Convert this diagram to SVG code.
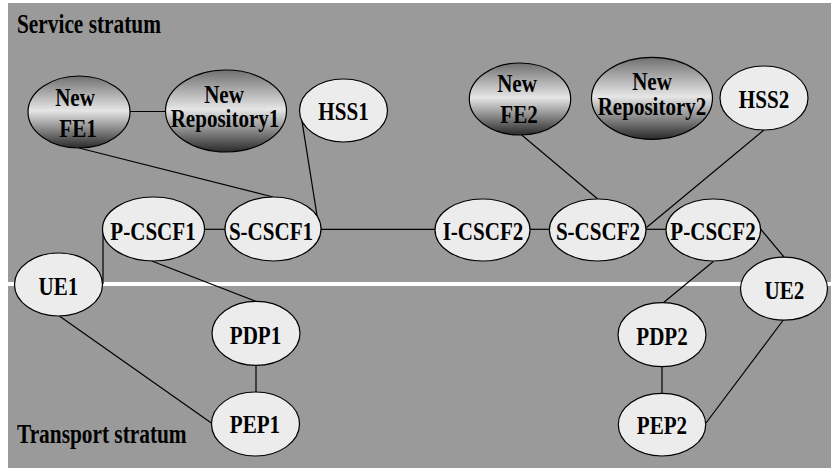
<svg xmlns="http://www.w3.org/2000/svg" width="831" height="470" viewBox="0 0 831 470">
<style>
.bg{fill:#9a9a9a}
.sep{stroke:#ffffff;stroke-width:4}
.n{fill:#ececec;stroke:#000;stroke-width:1.2}
.g{fill:url(#grad);stroke:#000;stroke-width:1.2}
.e line{stroke:#000;stroke-width:1.2}
text{font-family:"Liberation Serif","Times New Roman",serif;font-weight:bold;fill:#000}
.t{font-size:26px;text-anchor:middle}
.s{font-size:27px}
</style>
<defs>
<linearGradient id="grad" x1="0" y1="0" x2="0" y2="1">
<stop offset="0" stop-color="#707070"/>
<stop offset="0.48" stop-color="#e6e6e6"/>
<stop offset="1" stop-color="#2a2a2a"/>
</linearGradient>
</defs>
<rect width="831" height="470" fill="#ffffff"/>
<rect class="bg" x="8" y="3" width="823" height="465"/>
<line class="sep" x1="8" y1="284" x2="831" y2="284"/>
<text class="s" transform="translate(17,33) scale(.79,1)">Service stratum</text>
<text class="s" transform="translate(17,443) scale(.79,1)">Transport stratum</text>
<g id="connectors" class="e">
<line x1="130" y1="111.5" x2="165.5" y2="111.5"/>
<line x1="79" y1="148" x2="273" y2="197"/>
<line x1="301.9" y1="120.7" x2="319" y2="228"/>
<line x1="204" y1="229.3" x2="225" y2="229.3"/>
<line x1="320.7" y1="229.3" x2="435" y2="229.3"/>
<line x1="530" y1="229.3" x2="549.3" y2="229.3"/>
<line x1="646" y1="229.3" x2="666" y2="229.3"/>
<line x1="521.7" y1="135" x2="597.7" y2="199"/>
<line x1="764" y1="130" x2="646.5" y2="227.5"/>
<line x1="760.5" y1="229" x2="784" y2="257"/>
<line x1="713.3" y1="261.5" x2="663.3" y2="302.7"/>
<line x1="662" y1="366.7" x2="662" y2="393.3"/>
<line x1="783.3" y1="320" x2="706" y2="423"/>
<line x1="103" y1="231" x2="103" y2="284"/>
<line x1="151.7" y1="261" x2="256.7" y2="301.7"/>
<line x1="256" y1="365" x2="256" y2="392"/>
<line x1="59.3" y1="316" x2="211" y2="422.7"/>
</g>
<g id="newfe1"><ellipse class="g" cx="79" cy="112" rx="51" ry="36"/><text class="t" transform="translate(75,106) scale(.81,1)">New</text><text class="t" transform="translate(78,137) scale(.81,1)">FE1</text></g>
<g id="newrepo1"><ellipse class="g" cx="226" cy="111" rx="60.5" ry="41"/><text class="t" transform="translate(224,103) scale(.81,1)">New</text><text class="t" transform="translate(225,127) scale(.81,1)">Repository1</text></g>
<g id="hss1"><ellipse class="n" cx="343.5" cy="110.5" rx="44" ry="31.5"/><text class="t" transform="translate(343.5,120) scale(.81,1)">HSS1</text></g>
<g id="newfe2"><ellipse class="g" cx="520" cy="99" rx="50.7" ry="36"/><text class="t" transform="translate(517,92) scale(.81,1)">New</text><text class="t" transform="translate(519,123) scale(.81,1)">FE2</text></g>
<g id="newrepo2"><ellipse class="g" cx="652" cy="98.3" rx="60.5" ry="41"/><text class="t" transform="translate(652,90) scale(.81,1)">New</text><text class="t" transform="translate(652,115) scale(.81,1)">Repository2</text></g>
<g id="hss2"><ellipse class="n" cx="764" cy="98" rx="44" ry="32"/><text class="t" transform="translate(764,108) scale(.81,1)">HSS2</text></g>
<g id="pcscf1"><ellipse class="n" cx="153.5" cy="229" rx="51" ry="32"/><text class="t" transform="translate(153,240) scale(.81,1)">P-CSCF1</text></g>
<g id="scscf1"><ellipse class="n" cx="273" cy="229" rx="48" ry="32"/><text class="t" transform="translate(271,240) scale(.81,1)">S-CSCF1</text></g>
<g id="icscf2"><ellipse class="n" cx="482.5" cy="230" rx="47.5" ry="31"/><text class="t" transform="translate(483,240) scale(.81,1)">I-CSCF2</text></g>
<g id="scscf2"><ellipse class="n" cx="597.7" cy="230" rx="48.3" ry="31"/><text class="t" transform="translate(598,240) scale(.81,1)">S-CSCF2</text></g>
<g id="pcscf2"><ellipse class="n" cx="713.3" cy="230" rx="47.3" ry="31"/><text class="t" transform="translate(713,240) scale(.81,1)">P-CSCF2</text></g>
<g id="ue1"><ellipse class="n" cx="58.5" cy="284.5" rx="44" ry="31.5"/><text class="t" transform="translate(58.5,295) scale(.81,1)">UE1</text></g>
<g id="pdp1"><ellipse class="n" cx="256" cy="333.3" rx="44" ry="32"/><text class="t" transform="translate(255.5,343.5) scale(.81,1)">PDP1</text></g>
<g id="pep1"><ellipse class="n" cx="255.5" cy="424" rx="44" ry="32"/><text class="t" transform="translate(255,433) scale(.81,1)">PEP1</text></g>
<g id="ue2"><ellipse class="n" cx="784" cy="288.7" rx="43.5" ry="31.5"/><text class="t" transform="translate(784.5,298.5) scale(.81,1)">UE2</text></g>
<g id="pdp2"><ellipse class="n" cx="662" cy="334.7" rx="44" ry="32"/><text class="t" transform="translate(662,344.5) scale(.81,1)">PDP2</text></g>
<g id="pep2"><ellipse class="n" cx="662" cy="424.7" rx="43.7" ry="31.3"/><text class="t" transform="translate(662,434) scale(.81,1)">PEP2</text></g>
</svg>
